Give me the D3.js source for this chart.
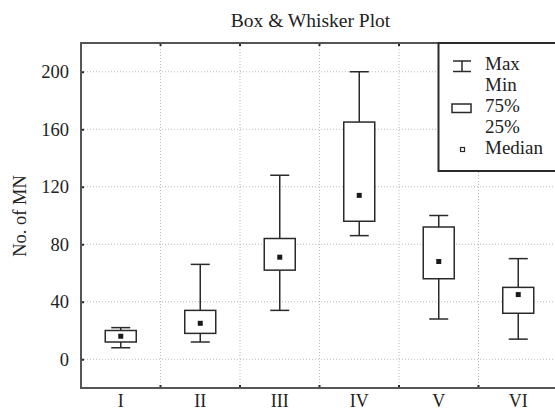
<!DOCTYPE html>
<html><head><meta charset="utf-8">
<script src="https://cdn.jsdelivr.net/npm/d3@7"></script>
<style>
body{margin:0;background:#fff;}
text{font-family:"Liberation Serif","Times New Roman",serif;fill:#222;}
</style></head>
<body>
<svg id="c" width="555" height="411"></svg>
<script>
const categories = ["I","II","III","IV","V","VI"];
const maxVals    = [22, 66, 128, 200, 100, 70];
const q3Vals     = [20, 34, 84, 165, 92, 50];
const medianVals = [16, 25, 71, 114, 68, 45];
const q1Vals     = [12, 18, 62, 96, 56, 32];
const minVals    = [8, 12, 34, 86, 28, 14];
const yTicks     = [0, 40, 80, 120, 160, 200];
const legendLabels = ["Max","Min","75%","25%","Median"];
const title = "Box & Whisker Plot";
const yLabel = "No. of MN";

const FONT = "Liberation Serif";
const svg = d3.select("#c");
const L = 81, R = 558, T = 43, B = 388;
const x = d3.scaleBand().domain(categories).range([L, R]);
const y = d3.scaleLinear().domain([-20, 220]).range([B, T]);
const dark = "#2a2a2a";

// grid
const g = svg.append("g");
g.selectAll(".gy").data(yTicks).join("line")
  .attr("x1", L).attr("x2", R).attr("y1", d => y(d)).attr("y2", d => y(d))
  .attr("stroke", "#b8b8b8").attr("stroke-width", 1).attr("stroke-dasharray", "1,2");
const bounds = categories.slice(1).map(c => x(c));
g.selectAll(".gx").data(bounds).join("line")
  .attr("x1", d => d).attr("x2", d => d).attr("y1", T).attr("y2", B)
  .attr("stroke", "#b8b8b8").attr("stroke-width", 1).attr("stroke-dasharray", "1,2");

// axes with d3
const yAxis = d3.axisLeft(y).tickValues(yTicks).tickSize(-3).tickPadding(12);
const ya = svg.append("g").attr("transform", `translate(${L},0)`).call(yAxis);
ya.attr("font-family", FONT);
ya.select(".domain").remove();
ya.selectAll(".tick line").attr("stroke", dark).attr("stroke-width", 2);
ya.selectAll(".tick text").attr("font-size", 18.5).attr("fill", "#222");

const xAxis = d3.axisBottom(x).tickSize(0).tickPadding(6);
const xa = svg.append("g").attr("transform", `translate(0,${B})`).call(xAxis);
xa.attr("font-family", FONT);
xa.select(".domain").remove();
xa.selectAll(".tick text").attr("font-size", 18).attr("fill", "#222");
// inward ticks at band boundaries
svg.selectAll(".tb").data(bounds).join("line")
  .attr("x1", d => d).attr("x2", d => d).attr("y1", B).attr("y2", B - 3)
  .attr("stroke", dark).attr("stroke-width", 2);
svg.selectAll(".tt").data(bounds).join("line")
  .attr("x1", d => d).attr("x2", d => d).attr("y1", T).attr("y2", T + 3)
  .attr("stroke", dark).attr("stroke-width", 2);

// frame
svg.append("rect").attr("x", L).attr("y", T).attr("width", R - L).attr("height", B - T)
  .attr("fill", "none").attr("stroke", "#555").attr("stroke-width", 2);

// boxes
const data = categories.map((c, i) => ({c, max: maxVals[i], q3: q3Vals[i], med: medianVals[i], q1: q1Vals[i], min: minVals[i]}));
const bw = 31, cw = 19, ms = 5;
const bx = svg.append("g");
data.forEach(d => {
  const cx = x(d.c) + x.bandwidth() / 2;
  const gg = bx.append("g").attr("stroke", dark).attr("stroke-width", 1.5);
  gg.append("line").attr("x1", cx).attr("x2", cx).attr("y1", y(d.max)).attr("y2", y(d.q3));
  gg.append("line").attr("x1", cx).attr("x2", cx).attr("y1", y(d.q1)).attr("y2", y(d.min));
  gg.append("line").attr("x1", cx - cw / 2).attr("x2", cx + cw / 2).attr("y1", y(d.max)).attr("y2", y(d.max));
  gg.append("line").attr("x1", cx - cw / 2).attr("x2", cx + cw / 2).attr("y1", y(d.min)).attr("y2", y(d.min));
  gg.append("rect").attr("x", cx - bw / 2).attr("y", y(d.q3)).attr("width", bw).attr("height", y(d.q1) - y(d.q3)).attr("fill", "#fff");
  gg.append("rect").attr("x", cx - ms / 2).attr("y", y(d.med) - ms / 2).attr("width", ms).attr("height", ms).attr("fill", "#1a1a1a").attr("stroke", "none");
});

// title
svg.append("text").attr("x", 310.5).attr("y", 27).attr("text-anchor", "middle").attr("font-size", 19.5).text(title);
// y label
svg.append("text").attr("transform", "translate(26,216) rotate(-90)").attr("text-anchor", "middle").attr("font-size", 18.5).text(yLabel);

// legend
const lg = svg.append("g");
lg.append("rect").attr("x", 438.5).attr("y", T).attr("width", 160).attr("height", 171 - T)
  .attr("fill", "#fff").attr("stroke", dark).attr("stroke-width", 2);
const lx = 462, ly0 = 69.5, step = 21;
legendLabels.forEach((t, i) => {
  lg.append("text").attr("x", 485).attr("y", ly0 + i * step).attr("font-size", 19).text(t);
});
const li = lg.append("g").attr("stroke", dark).attr("stroke-width", 1.5);
li.append("line").attr("x1", lx - 9).attr("x2", lx + 9).attr("y1", 61).attr("y2", 61);
li.append("line").attr("x1", lx - 9).attr("x2", lx + 9).attr("y1", 71.5).attr("y2", 71.5);
li.append("line").attr("x1", lx).attr("x2", lx).attr("y1", 61).attr("y2", 71.5);
li.append("rect").attr("x", lx - 10).attr("y", 104).attr("width", 19).attr("height", 8.5).attr("fill", "#fff");
li.append("rect").attr("x", lx - 1.5).attr("y", 147.5).attr("width", 4).attr("height", 4).attr("fill", "#fff").attr("stroke-width", 1.2);
</script>
</body></html>
